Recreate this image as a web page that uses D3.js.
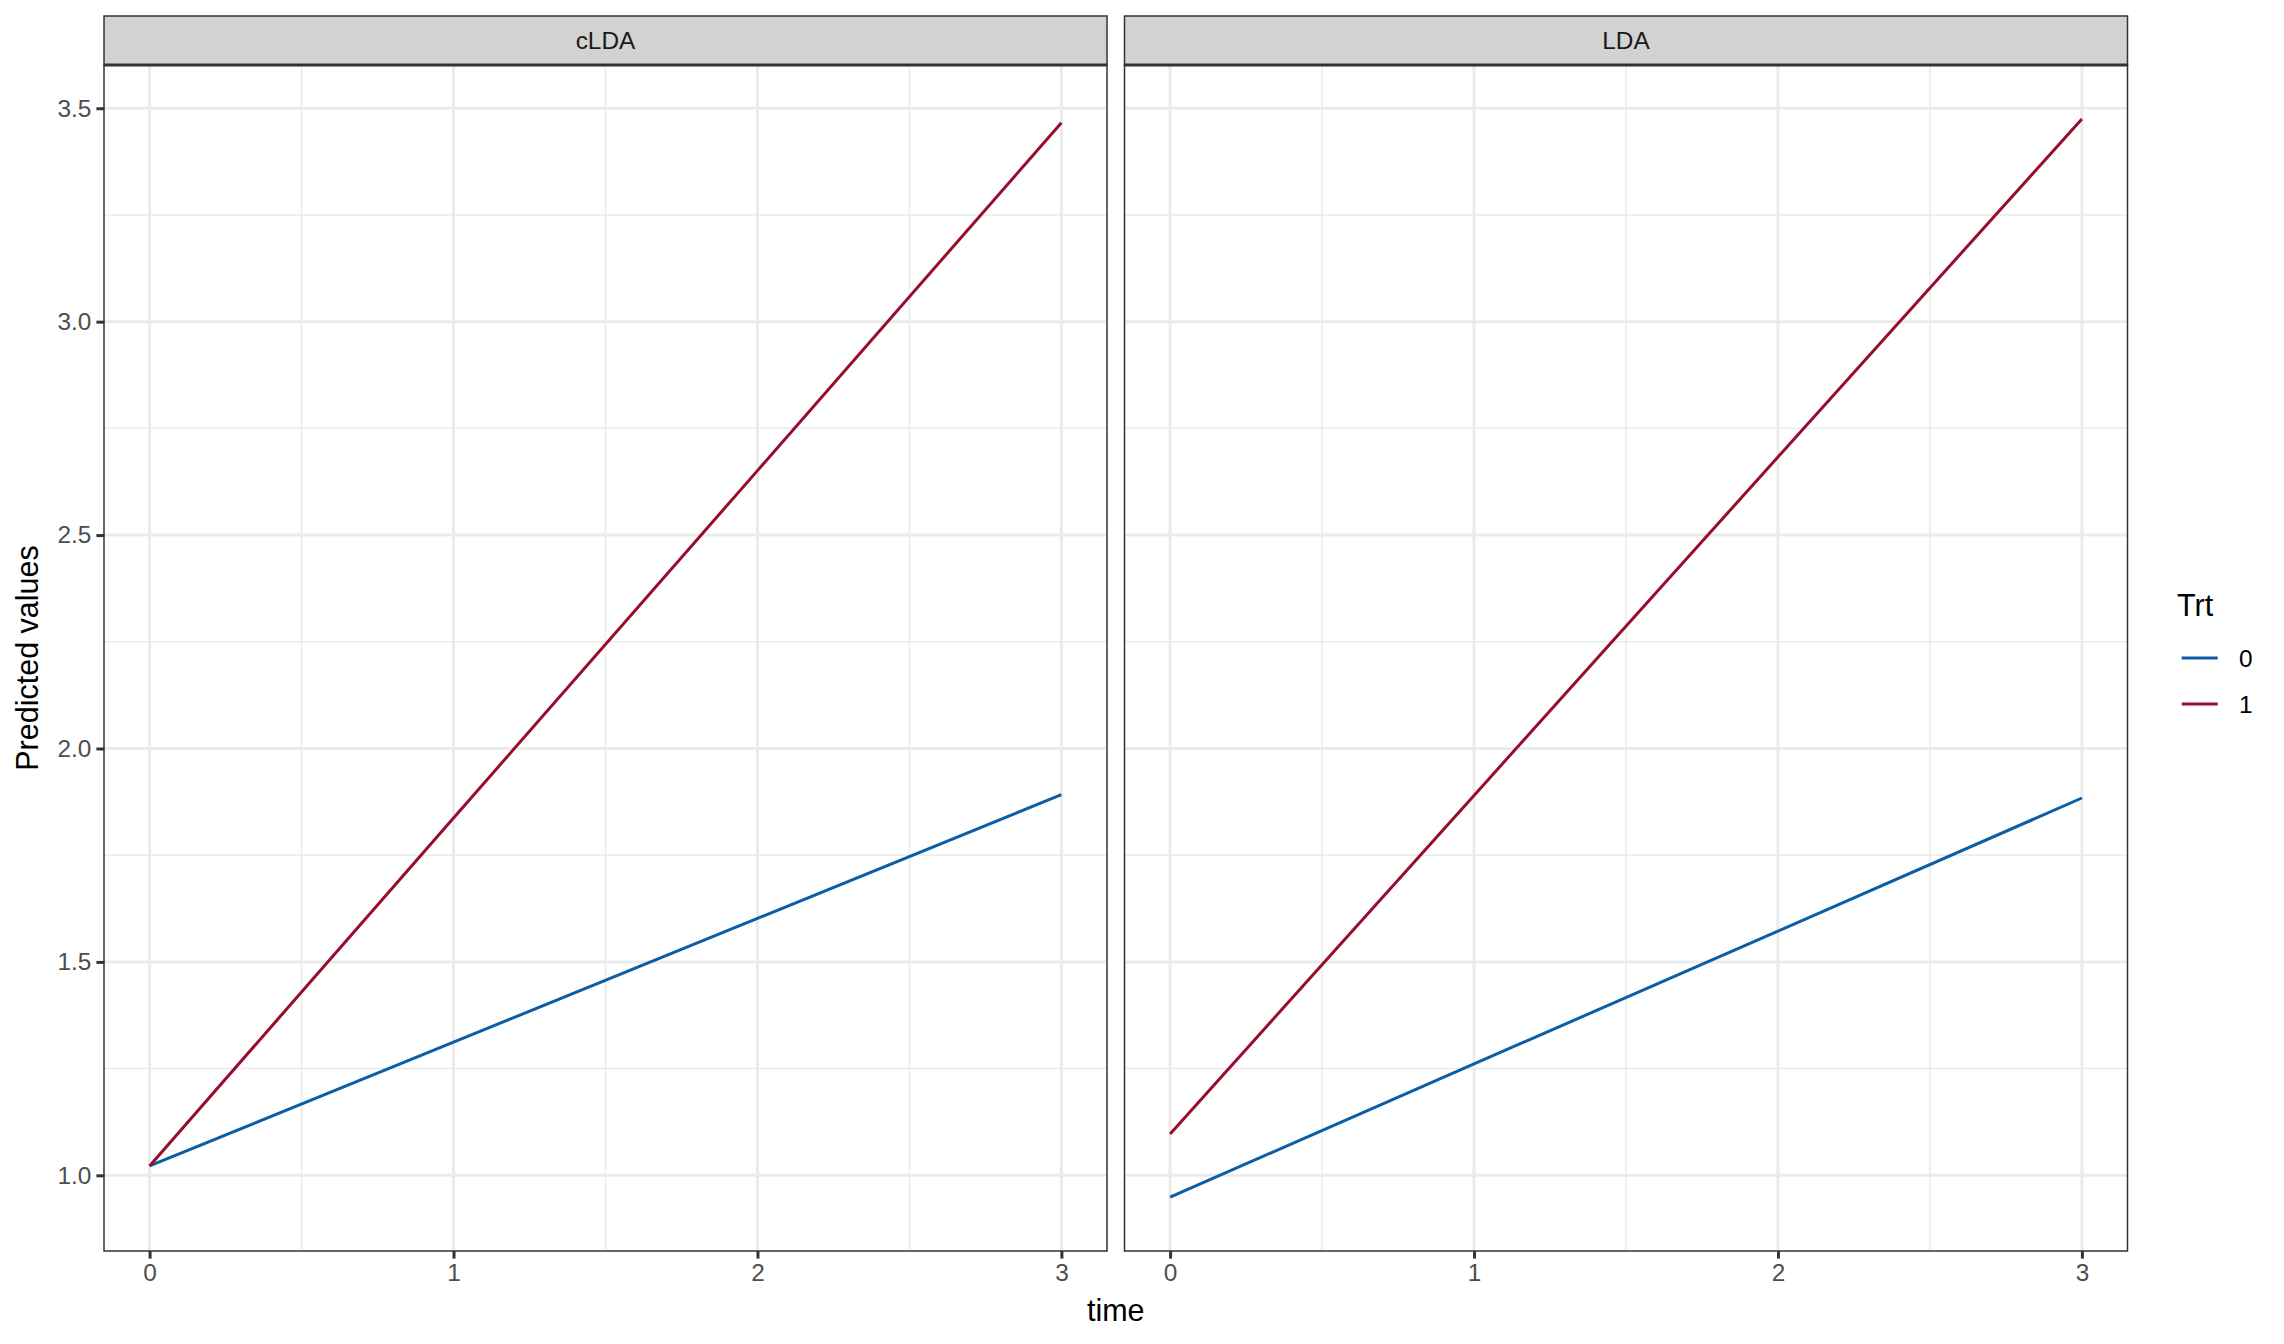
<!DOCTYPE html>
<html>
<head>
<meta charset="utf-8">
<script src="https://cdn.jsdelivr.net/npm/d3@7"></script>
<style>
  body { margin: 0; background: #fff; }
  text { font-family: "Liberation Sans", Arial, Helvetica, sans-serif; }
</style>
</head>
<body>
<div id="chart"></div>
<script>
// values
var panels = ["cLDA", "LDA"];
var times = [0, 1, 2, 3];
var trtLevels = ["0", "1"];
var cLDA_trt0 = [1.022, 1.312, 1.602, 1.892];
var cLDA_trt1 = [1.022, 1.837, 2.651, 3.466];
var LDA_trt0 = [0.949, 1.261, 1.572, 1.884];
var LDA_trt1 = [1.097, 1.890, 2.683, 3.475];
var xTicks = [0, 1, 2, 3];
var yTicks = [1.0, 1.5, 2.0, 2.5, 3.0, 3.5];

var colors = {"0": "#0A5DA6", "1": "#980C2C"};

var seriesByPanel = {
  cLDA: [{trt: "0", vals: cLDA_trt0}, {trt: "1", vals: cLDA_trt1}],
  LDA:  [{trt: "0", vals: LDA_trt0},  {trt: "1", vals: LDA_trt1}]
};

var W = 2284, H = 1344;
var panelW = 1003, panelTop = 65, panelBottom = 1251, stripTop = 16;
var panelLefts = [104, 1124.5];

var svg = d3.select("#chart").append("svg")
    .attr("width", W)
    .attr("height", H);

// ggplot-style 5% expansion
var allVals = [].concat(cLDA_trt0, cLDA_trt1, LDA_trt0, LDA_trt1);
var yMin = d3.min(allVals), yMax = d3.max(allVals);
var yPad = (yMax - yMin) * 0.05;
var y = d3.scaleLinear()
    .domain([yMin - yPad, yMax + yPad])
    .range([panelBottom, panelTop]);

var xPad = 3 * 0.05;
var yMinor = [0.75, 1.25, 1.75, 2.25, 2.75, 3.25].filter(function(v) { return v > y.domain()[0]; });
var xMinor = [0.5, 1.5, 2.5];

panels.forEach(function(p, i) {
  var left = panelLefts[i];
  var x = d3.scaleLinear()
      .domain([0 - xPad, 3 + xPad])
      .range([left, left + panelW]);

  var g = svg.append("g");

  // grid
  g.selectAll(".ymin").data(yMinor).enter().append("line")
      .attr("x1", left).attr("x2", left + panelW)
      .attr("y1", function(d) { return y(d); }).attr("y2", function(d) { return y(d); })
      .attr("stroke", "#EBEBEB").attr("stroke-width", 1.5);
  g.selectAll(".xmin").data(xMinor).enter().append("line")
      .attr("y1", panelTop).attr("y2", panelBottom)
      .attr("x1", function(d) { return x(d); }).attr("x2", function(d) { return x(d); })
      .attr("stroke", "#EBEBEB").attr("stroke-width", 1.5);
  g.selectAll(".ymaj").data(yTicks).enter().append("line")
      .attr("x1", left).attr("x2", left + panelW)
      .attr("y1", function(d) { return y(d); }).attr("y2", function(d) { return y(d); })
      .attr("stroke", "#EBEBEB").attr("stroke-width", 3);
  g.selectAll(".xmaj").data(xTicks).enter().append("line")
      .attr("y1", panelTop).attr("y2", panelBottom)
      .attr("x1", function(d) { return x(d); }).attr("x2", function(d) { return x(d); })
      .attr("stroke", "#EBEBEB").attr("stroke-width", 3);

  // lines
  var line = d3.line()
      .x(function(d, j) { return x(times[j]); })
      .y(function(d) { return y(d); });

  g.selectAll(".series").data(seriesByPanel[p]).enter().append("path")
      .attr("d", function(d) { return line(d.vals); })
      .attr("fill", "none")
      .attr("stroke", function(d) { return colors[d.trt]; })
      .attr("stroke-width", 3);

  // panel border
  g.append("rect")
      .attr("x", left).attr("y", panelTop)
      .attr("width", panelW).attr("height", panelBottom - panelTop)
      .attr("fill", "none").attr("stroke", "#333333").attr("stroke-width", 1.5);

  // strip
  g.append("rect")
      .attr("x", left).attr("y", stripTop)
      .attr("width", panelW).attr("height", panelTop - stripTop)
      .attr("fill", "#D2D2D2").attr("stroke", "#333333").attr("stroke-width", 1.5);
  g.append("line")
      .attr("x1", left).attr("x2", left + panelW)
      .attr("y1", panelTop).attr("y2", panelTop)
      .attr("stroke", "#333333").attr("stroke-width", 3);
  g.append("text")
      .attr("x", left + panelW / 2).attr("y", (stripTop + panelTop) / 2)
      .attr("dy", "0.36em")
      .attr("text-anchor", "middle")
      .attr("font-size", 24.4)
      .attr("fill", "#1A1A1A")
      .text(p);

  // x axis
  var xAxis = d3.axisBottom(x).tickValues(xTicks).tickSize(7.6).tickPadding(5).tickFormat(d3.format("d"));
  var gx = svg.append("g")
      .attr("transform", "translate(0," + panelBottom + ")")
      .call(xAxis);
  gx.select(".domain").remove();
  gx.selectAll(".tick line").attr("stroke", "#333333").attr("stroke-width", 3);
  gx.selectAll(".tick text").attr("font-size", 24.4).attr("fill", "#4D4D4D")
      .style("font-family", "'Liberation Sans', Arial, sans-serif");

  // y axis on first panel only
  if (i === 0) {
    var yAxis = d3.axisLeft(y).tickValues(yTicks).tickSize(7.6).tickPadding(5).tickFormat(d3.format(".1f"));
    var gy = svg.append("g")
        .attr("transform", "translate(" + left + ",0)")
        .call(yAxis);
    gy.select(".domain").remove();
    gy.selectAll(".tick line").attr("stroke", "#333333").attr("stroke-width", 3);
    gy.selectAll(".tick text").attr("font-size", 24.4).attr("fill", "#4D4D4D")
        .style("font-family", "'Liberation Sans', Arial, sans-serif");
  }
});

// axis titles
svg.append("text")
    .attr("x", (panelLefts[0] + panelLefts[1] + panelW) / 2)
    .attr("y", 1321)
    .attr("text-anchor", "middle")
    .attr("font-size", 30.5)
    .attr("fill", "#000")
    .text("time");

svg.append("text")
    .attr("transform", "translate(38," + ((panelTop + panelBottom) / 2) + ") rotate(-90)")
    .attr("text-anchor", "middle")
    .attr("font-size", 30.5)
    .attr("fill", "#000")
    .text("Predicted values");

// legend
var legend = svg.append("g");
legend.append("text")
    .attr("x", 2177).attr("y", 616)
    .attr("font-size", 30.5)
    .attr("fill", "#000")
    .text("Trt");

var keyY = d3.scalePoint().domain(trtLevels).range([658, 704]);
trtLevels.forEach(function(t) {
  legend.append("line")
      .attr("x1", 2181.7).attr("x2", 2217.7)
      .attr("y1", keyY(t)).attr("y2", keyY(t))
      .attr("stroke", colors[t]).attr("stroke-width", 3);
  legend.append("text")
      .attr("x", 2239).attr("y", keyY(t))
      .attr("dy", "0.36em")
      .attr("font-size", 24.4)
      .attr("fill", "#000")
      .text(t);
});
</script>
</body>
</html>
